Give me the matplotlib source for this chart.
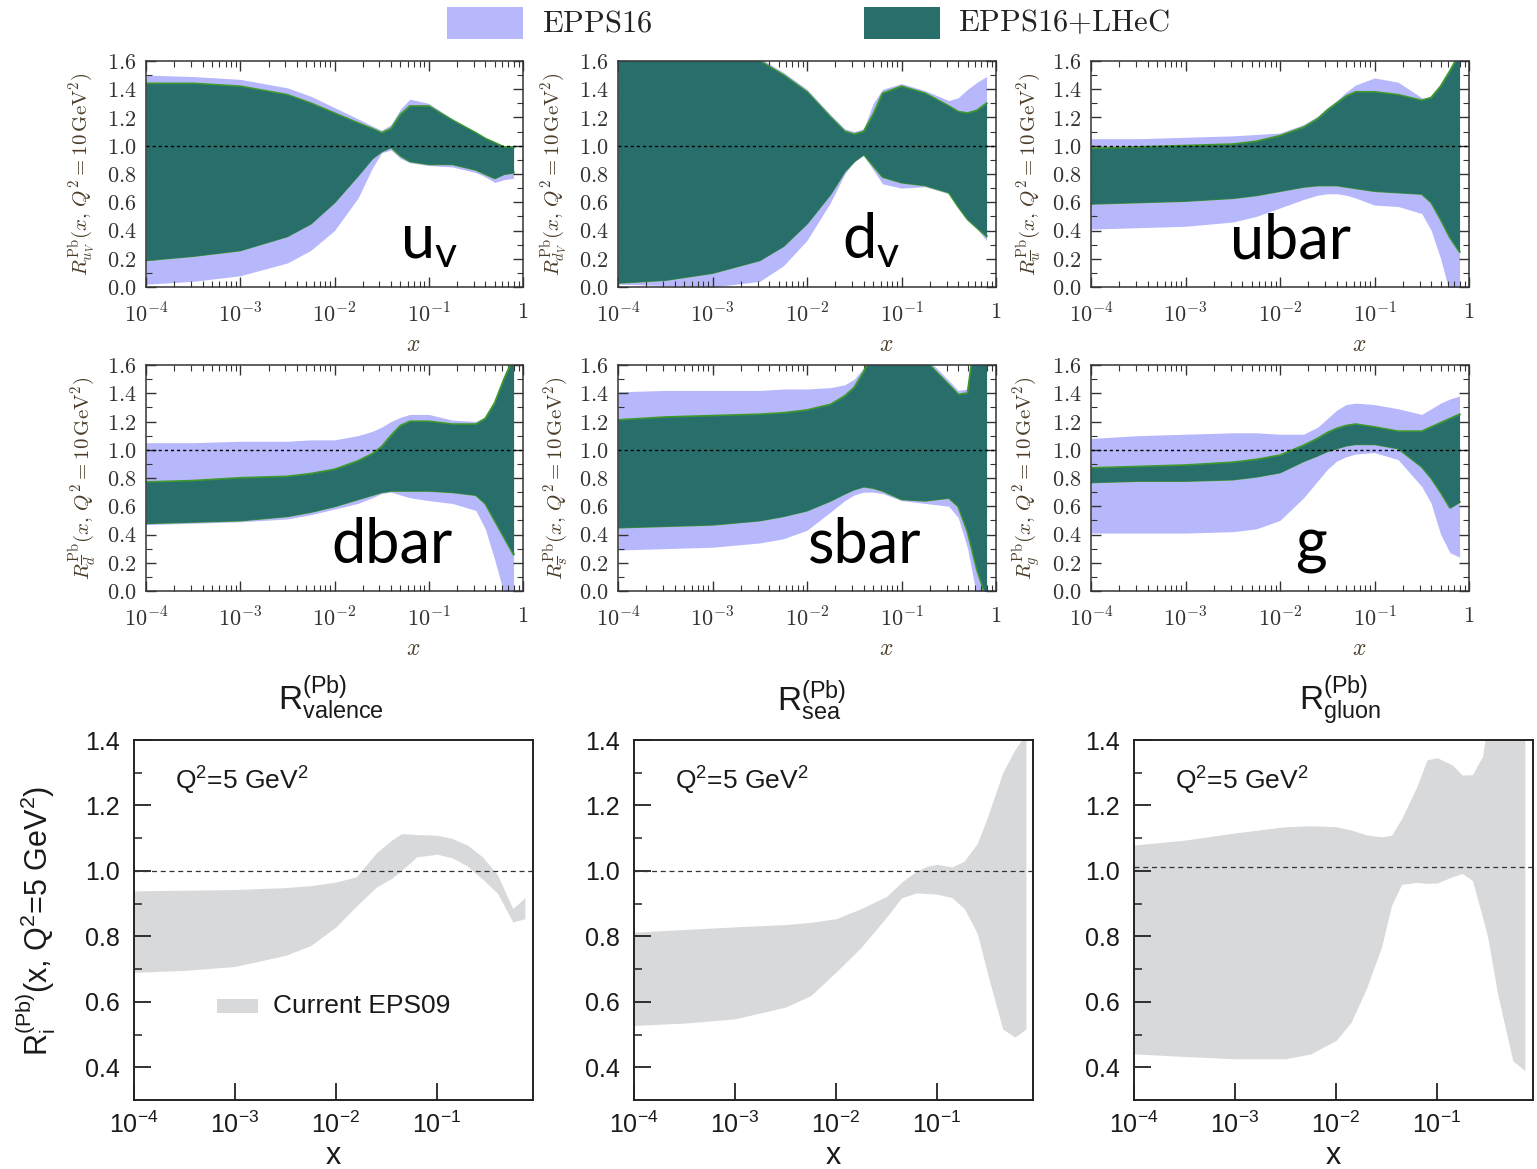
import numpy as np
import matplotlib.pyplot as plt
from matplotlib.patches import Rectangle
from matplotlib.ticker import (FixedLocator, MultipleLocator, LogLocator,
                               NullFormatter, NullLocator, FuncFormatter)

plt.rcParams['mathtext.fontset'] = 'cm'

# ---------------- data: EPPS16 / EPPS16+LHeC bands (Q^2 = 10 GeV^2) ----------------
top_logx = [-4, -3.5, -3, -2.5, -2.25, -2, -1.75, -1.6, -1.5, -1.4, -1.3, -1.2,
            -1.0, -0.75, -0.5, -0.4, -0.3, -0.2, -0.1]

uv_epps_hi = [1.50, 1.49, 1.47, 1.41, 1.35, 1.27, 1.19, 1.14, 1.11, 1.15, 1.26, 1.33,
              1.30, 1.19, 1.09, 1.05, 1.02, 1.00, 0.99]
uv_epps_lo = [0.02, 0.04, 0.08, 0.17, 0.26, 0.40, 0.63, 0.84, 0.95, 0.97, 0.91, 0.88,
              0.86, 0.85, 0.81, 0.78, 0.74, 0.76, 0.77]
uv_lhec_hi = [1.44, 1.44, 1.42, 1.36, 1.30, 1.23, 1.16, 1.12, 1.09, 1.12, 1.22, 1.28,
              1.28, 1.18, 1.09, 1.05, 1.02, 0.99, 0.99]
uv_lhec_lo = [0.19, 0.22, 0.26, 0.36, 0.45, 0.60, 0.79, 0.91, 0.96, 0.99, 0.93, 0.89,
              0.87, 0.87, 0.83, 0.80, 0.77, 0.80, 0.81]

dv_epps_hi = [1.90, 1.90, 1.80, 1.62, 1.52, 1.40, 1.22, 1.12, 1.10, 1.12, 1.30, 1.40,
              1.44, 1.39, 1.32, 1.34, 1.40, 1.45, 1.49]
dv_epps_lo = [0.02, 0.01, 0.00, 0.04, 0.15, 0.33, 0.60, 0.80, 0.89, 0.93, 0.83, 0.73,
              0.70, 0.71, 0.66, 0.56, 0.47, 0.41, 0.33]
dv_lhec_hi = [1.90, 1.90, 1.80, 1.60, 1.50, 1.38, 1.20, 1.10, 1.08, 1.10, 1.22, 1.37,
              1.42, 1.37, 1.28, 1.24, 1.23, 1.25, 1.30]
dv_lhec_lo = [0.03, 0.05, 0.10, 0.19, 0.29, 0.45, 0.66, 0.82, 0.89, 0.94, 0.86, 0.78,
              0.74, 0.72, 0.67, 0.57, 0.48, 0.42, 0.36]

ub_epps_hi = [1.05, 1.05, 1.06, 1.07, 1.08, 1.09, 1.15, 1.21, 1.27, 1.32, 1.38, 1.43,
              1.48, 1.45, 1.34, 1.33, 1.40, 1.52, 1.65]
ub_epps_lo = [0.41, 0.42, 0.43, 0.46, 0.50, 0.56, 0.62, 0.65, 0.66, 0.66, 0.65, 0.63,
              0.58, 0.57, 0.52, 0.40, 0.20, -0.05, -0.30]
ub_lhec_hi = [0.98, 0.99, 1.00, 1.01, 1.03, 1.07, 1.13, 1.19, 1.25, 1.30, 1.35, 1.38,
              1.38, 1.36, 1.32, 1.34, 1.42, 1.53, 1.65]
ub_lhec_lo = [0.59, 0.60, 0.61, 0.63, 0.65, 0.68, 0.71, 0.72, 0.72, 0.72, 0.71, 0.70,
              0.68, 0.67, 0.66, 0.60, 0.48, 0.35, 0.25]

db_epps_hi = [1.05, 1.05, 1.06, 1.06, 1.07, 1.07, 1.10, 1.13, 1.16, 1.20, 1.23, 1.25,
              1.25, 1.21, 1.20, 1.23, 1.35, 1.50, 1.65]
db_epps_lo = [0.47, 0.48, 0.49, 0.51, 0.54, 0.58, 0.62, 0.66, 0.69, 0.70, 0.68, 0.66,
              0.64, 0.62, 0.57, 0.44, 0.22, -0.02, -0.30]
db_lhec_hi = [0.77, 0.78, 0.80, 0.81, 0.83, 0.86, 0.92, 0.97, 1.02, 1.10, 1.17, 1.20,
              1.20, 1.18, 1.18, 1.22, 1.33, 1.50, 1.65]
db_lhec_lo = [0.48, 0.49, 0.50, 0.53, 0.56, 0.60, 0.65, 0.68, 0.70, 0.71, 0.71, 0.71,
              0.71, 0.70, 0.68, 0.62, 0.50, 0.38, 0.26]

sb_epps_hi = [1.41, 1.42, 1.42, 1.42, 1.43, 1.43, 1.44, 1.46, 1.50, 1.58, 1.70, 1.80,
              1.80, 1.66, 1.49, 1.42, 1.43, 1.90, 1.90]
sb_epps_lo = [0.29, 0.30, 0.31, 0.34, 0.37, 0.43, 0.56, 0.64, 0.68, 0.70, 0.70, 0.69,
              0.64, 0.62, 0.60, 0.52, 0.30, -0.05, -0.30]
sb_lhec_hi = [1.21, 1.23, 1.24, 1.25, 1.26, 1.28, 1.32, 1.38, 1.44, 1.55, 1.70, 1.80,
              1.80, 1.63, 1.46, 1.39, 1.40, 1.90, 1.90]
sb_lhec_lo = [0.45, 0.46, 0.47, 0.50, 0.53, 0.57, 0.64, 0.69, 0.72, 0.74, 0.73, 0.71,
              0.65, 0.64, 0.66, 0.60, 0.42, 0.15, -0.05]

g_epps_hi = [1.08, 1.10, 1.11, 1.12, 1.12, 1.11, 1.11, 1.16, 1.22, 1.28, 1.32, 1.33,
             1.32, 1.29, 1.25, 1.29, 1.33, 1.36, 1.38]
g_epps_lo = [0.41, 0.41, 0.41, 0.42, 0.44, 0.50, 0.66, 0.78, 0.86, 0.92, 0.95, 0.97,
             0.98, 0.93, 0.74, 0.62, 0.40, 0.27, 0.24]
g_lhec_hi = [0.87, 0.88, 0.89, 0.91, 0.93, 0.96, 1.03, 1.08, 1.12, 1.15, 1.17, 1.18,
             1.16, 1.13, 1.13, 1.16, 1.19, 1.22, 1.25]
g_lhec_lo = [0.77, 0.78, 0.78, 0.79, 0.81, 0.84, 0.92, 0.96, 0.99, 1.01, 1.03, 1.04,
             1.04, 1.01, 0.88, 0.80, 0.70, 0.59, 0.63]

top_names = [r'$\mathregular{u_v}$', r'$\mathregular{d_v}$', 'ubar', 'dbar', 'sbar', 'g']
top_ylabels = [r'$R^{\rm Pb}_{u_V}(x,\,Q^2=10\,{\rm GeV}^2)$',
               r'$R^{\rm Pb}_{d_V}(x,\,Q^2=10\,{\rm GeV}^2)$',
               r'$R^{\rm Pb}_{\overline{u}}(x,\,Q^2=10\,{\rm GeV}^2)$',
               r'$R^{\rm Pb}_{\overline{d}}(x,\,Q^2=10\,{\rm GeV}^2)$',
               r'$R^{\rm Pb}_{\overline{s}}(x,\,Q^2=10\,{\rm GeV}^2)$',
               r'$R^{\rm Pb}_{g}(x,\,Q^2=10\,{\rm GeV}^2)$']
top_xticklabels = [r'$10^{-4}$', r'$10^{-3}$', r'$10^{-2}$', r'$10^{-1}$', r'$1$']

# ---------------- data: EPS09 bands (Q^2 = 5 GeV^2) ----------------
val_logx = [-4, -3.5, -3, -2.5, -2.25, -2, -1.8, -1.6, -1.45, -1.35, -1.2, -1.0,
            -0.85, -0.7, -0.55, -0.4, -0.25, -0.13]
val_hi = [0.939, 0.941, 0.943, 0.949, 0.955, 0.966, 0.982, 1.055, 1.094, 1.114, 1.111, 1.109,
          1.099, 1.079, 1.043, 0.987, 0.885, 0.918]
val_lo = [0.690, 0.696, 0.708, 0.742, 0.772, 0.829, 0.892, 0.951, 0.977, 1.002, 1.043, 1.051,
          1.040, 1.015, 0.975, 0.931, 0.844, 0.854]

sea_logx = [-4, -3.5, -3, -2.5, -2.25, -2, -1.75, -1.5, -1.35, -1.2, -1.1, -1.0,
            -0.85, -0.73, -0.6, -0.5, -0.35, -0.23, -0.12]
sea_hi = [0.813, 0.821, 0.829, 0.836, 0.843, 0.854, 0.885, 0.922, 0.966, 1.000, 1.014, 1.020,
          1.012, 1.030, 1.085, 1.165, 1.300, 1.370, 1.420]
sea_lo = [0.528, 0.535, 0.548, 0.584, 0.619, 0.691, 0.767, 0.859, 0.918, 0.933, 0.931, 0.929,
          0.918, 0.885, 0.808, 0.686, 0.517, 0.492, 0.517]

glu_logx = [-4, -3.5, -3, -2.5, -2.25, -2, -1.85, -1.7, -1.55, -1.45, -1.35, -1.2, -1.1,
            -1.0, -0.85, -0.75, -0.65, -0.55, -0.5, -0.4, -0.25, -0.13]
glu_hi = [1.079, 1.094, 1.116, 1.135, 1.138, 1.135, 1.125, 1.110, 1.104, 1.109, 1.160, 1.257,
          1.339, 1.346, 1.324, 1.293, 1.294, 1.350, 1.450, 1.500, 1.500, 1.500]
glu_lo = [0.441, 0.433, 0.426, 0.426, 0.441, 0.482, 0.538, 0.640, 0.767, 0.895, 0.959, 0.965,
          0.962, 0.963, 0.982, 0.992, 0.971, 0.859, 0.800, 0.624, 0.420, 0.390]

bot_titles = [r'$\mathregular{R^{(Pb)}_{valence}}$', r'$\mathregular{R^{(Pb)}_{sea}}$',
              r'$\mathregular{R^{(Pb)}_{gluon}}$']
bot_xticklabels = [r'$\mathregular{10^{-4}}$', r'$\mathregular{10^{-3}}$',
                   r'$\mathregular{10^{-2}}$', r'$\mathregular{10^{-1}}$']
bot_ref = [1.0, 1.0, 1.012]

# ---------------- style ----------------
LAV = '#b7b7fc'
TEAL = '#286f6b'
GREEN = '#3f9a2d'
GREY = '#d8d9db'
INK = '#333333'
SANS = 'Liberation Sans'

W, H = 1537, 1169
fig = plt.figure(figsize=(W / 100, H / 100), dpi=100)


def px_axes(left, top, right, bottom):
    return fig.add_axes([left / W, 1 - bottom / H, (right - left) / W, (bottom - top) / H])


top_boxes = [(146, 61, 523, 287), (618, 61, 996, 287), (1091, 61, 1469, 287),
             (146, 365, 523, 591), (618, 365, 996, 591), (1091, 365, 1469, 591)]
top_bands = [(uv_epps_lo, uv_epps_hi, uv_lhec_lo, uv_lhec_hi),
             (dv_epps_lo, dv_epps_hi, dv_lhec_lo, dv_lhec_hi),
             (ub_epps_lo, ub_epps_hi, ub_lhec_lo, ub_lhec_hi),
             (db_epps_lo, db_epps_hi, db_lhec_lo, db_lhec_hi),
             (sb_epps_lo, sb_epps_hi, sb_lhec_lo, sb_lhec_hi),
             (g_epps_lo, g_epps_hi, g_lhec_lo, g_lhec_hi)]
name_pos = [(0.674, 0.128), (0.593, 0.128), (0.368, 0.128),
            (0.493, 0.124), (0.503, 0.124), (0.54, 0.124)]

x_top = 10.0 ** np.array(top_logx)
for i, box in enumerate(top_boxes):
    ax = px_axes(*box)
    e_lo, e_hi, l_lo, l_hi = top_bands[i]
    ax.fill_between(x_top, e_lo, e_hi, color=LAV, lw=0, zorder=1)
    ax.plot(x_top, l_lo, color=GREEN, lw=1.6, zorder=2)
    ax.plot(x_top, l_hi, color=GREEN, lw=1.6, zorder=2)
    ax.fill_between(x_top, l_lo, l_hi, color=TEAL, lw=0, zorder=3)
    ax.axhline(1.0, color='black', lw=1.0, ls=(0, (2.2, 2.2)), zorder=4)

    ax.set_xscale('log')
    ax.set_xlim(1e-4, 1)
    ax.set_ylim(0, 1.6)
    ax.xaxis.set_major_locator(FixedLocator([1e-4, 1e-3, 1e-2, 1e-1, 1]))
    ax.set_xticklabels(top_xticklabels)
    ax.xaxis.set_minor_locator(LogLocator(base=10, subs=np.arange(2, 10), numticks=20))
    ax.xaxis.set_minor_formatter(NullFormatter())
    ax.yaxis.set_major_locator(MultipleLocator(0.2))
    ax.yaxis.set_minor_locator(MultipleLocator(0.1))
    ax.yaxis.set_major_formatter(FuncFormatter(lambda v, p: r'$%.1f$' % v))
    ax.tick_params(which='both', direction='in', top=True, right=True,
                   color=INK, labelcolor=INK, labelsize=16)
    ax.tick_params(which='major', length=7, width=1.0)
    ax.tick_params(which='minor', length=4, width=0.8)
    ax.tick_params(axis='x', pad=11)
    ax.tick_params(axis='y', pad=7)
    for s in ax.spines.values():
        s.set_color(INK)
        s.set_linewidth(1.1)
        s.set_zorder(5)

    ax.set_xlabel(r'$x$', fontsize=17, color='#4a3c28')
    ax.xaxis.set_label_coords(0.71, -0.2)
    ax.set_ylabel(top_ylabels[i], fontsize=15, color='#4a3c28')
    ax.yaxis.set_label_coords(-0.125, 0.5)

    nx, ny = name_pos[i]
    ax.text(nx, ny, top_names[i], transform=ax.transAxes, family='Lato',
            fontsize=44, color='black', ha='left', va='baseline', zorder=6)

# top legend
fig.patches.append(Rectangle((447 / W, 1 - 39 / H), 76 / W, 32 / H,
                             transform=fig.transFigure, color=LAV, lw=0))
fig.patches.append(Rectangle((864 / W, 1 - 39 / H), 76 / W, 32 / H,
                             transform=fig.transFigure, color=TEAL, lw=0))
fig.text(542 / W, 1 - 23 / H, r'$\mathrm{EPPS16}$', fontsize=22, va='center', color='#222222')
fig.text(958 / W, 1 - 23 / H, r'$\mathrm{EPPS16{+}LHeC}$', fontsize=22, va='center',
         color='#222222')

# ---------------- bottom row ----------------
bot_boxes = [(134, 740, 533, 1100), (634, 740, 1033, 1100), (1134, 740, 1533, 1100)]
bot_bands = [(val_logx, val_lo, val_hi), (sea_logx, sea_lo, sea_hi), (glu_logx, glu_lo, glu_hi)]
title_x = [0.494, 0.446, 0.516]

for i, box in enumerate(bot_boxes):
    ax = px_axes(*box)
    lx, lo, hi = bot_bands[i]
    xx = 10.0 ** np.array(lx)
    ax.fill_between(xx, lo, hi, color=GREY, lw=0, zorder=1)
    ax.axhline(bot_ref[i], color='#333333', lw=0.9, ls=(0, (4, 3)), zorder=2)

    ax.set_xscale('log')
    ax.set_xlim(1e-4, 10 ** -0.05)
    ax.set_ylim(0.3, 1.4)
    ax.xaxis.set_major_locator(FixedLocator([1e-4, 1e-3, 1e-2, 1e-1]))
    ax.set_xticklabels(bot_xticklabels)
    ax.xaxis.set_minor_locator(NullLocator())
    ax.yaxis.set_major_locator(FixedLocator([0.4, 0.6, 0.8, 1.0, 1.2, 1.4]))
    ax.yaxis.set_minor_locator(FixedLocator([0.5, 0.7, 0.9, 1.1, 1.3]))
    ax.yaxis.set_major_formatter(FuncFormatter(lambda v, p: '%.1f' % v))
    ax.tick_params(which='both', direction='in', top=False, right=False,
                   color='#222222', labelcolor='#1a1a1a', labelsize=18)
    ax.tick_params(which='major', length=12, width=1.3)
    ax.tick_params(which='minor', length=6, width=1.1)
    ax.tick_params(axis='x', pad=8)
    ax.tick_params(axis='y', pad=10)
    for lab in ax.get_xticklabels() + ax.get_yticklabels():
        lab.set_family(SANS)
    for s in ax.spines.values():
        s.set_color('#222222')
        s.set_linewidth(1.4)

    ax.set_xlabel('x', fontsize=22, family=SANS, color='#1a1a1a')
    ax.xaxis.set_label_coords(0.5, -0.115)
    ax.text(title_x[i], 1.081, bot_titles[i], transform=ax.transAxes, family=SANS,
            fontsize=24, ha='center', va='baseline', color='#1a1a1a')
    ax.text(0.103, 0.886, r'$\mathregular{Q^2}$=5 $\mathregular{GeV^2}$',
            transform=ax.transAxes, family=SANS, fontsize=19, va='center', color='#1a1a1a')

    if i == 0:
        ax.set_ylabel(r'$\mathregular{R_i^{(Pb)}}$(x, $\mathregular{Q^2}$=5 $\mathregular{GeV^2}$)',
                      fontsize=22, family=SANS, color='#1a1a1a')
        ax.yaxis.set_label_coords(-0.19, 0.497)
        ax.add_patch(Rectangle((0.208, 0.242), 0.103, 0.039, transform=ax.transAxes,
                               color=GREY, lw=0))
        ax.text(0.348, 0.261, 'Current EPS09', transform=ax.transAxes, family=SANS,
                fontsize=19, va='center', color='#1a1a1a')

fig.savefig('out.png', dpi=100)
